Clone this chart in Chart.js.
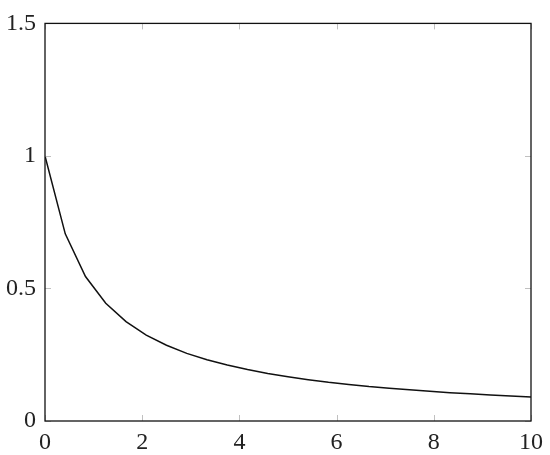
<!DOCTYPE html>
<html lang="en">
<head>
    <meta charset="UTF-8">
    <title>Decay curve</title>
    <script src="https://cdn.jsdelivr.net/npm/chart.js"></script>
    <style>
        body { margin: 0; background: #fff; }
        #wrap { width: 550px; height: 455px; }
    </style>
</head>
<body>
    <div id="wrap"><canvas id="chart" width="550" height="455"></canvas></div>
    <script>
        // values
        const xValues = [0, 0.417, 0.833, 1.25, 1.667, 2.083, 2.5, 2.917, 3.333, 3.75, 4.167, 4.583,
                         5, 5.417, 5.833, 6.25, 6.667, 7.083, 7.5, 7.917, 8.333, 8.75, 9.167, 9.583, 10];
        const yValues = [1, 0.706, 0.545, 0.444, 0.375, 0.324, 0.286, 0.255, 0.231, 0.211, 0.194, 0.179,
                         0.167, 0.156, 0.146, 0.138, 0.130, 0.124, 0.118, 0.112, 0.107, 0.103, 0.098, 0.094, 0.091];
        const xTicks = [0, 2, 4, 6, 8, 10];
        const yTicks = [0, 0.5, 1, 1.5];

        const points = xValues.map((x, i) => ({ x: x, y: yValues[i] }));

        // box frame plus small inward ticks on every side
        const framePlugin = {
            id: 'frame',
            afterDatasetsDraw(chart) {
                const ctx = chart.ctx;
                const a = chart.chartArea;
                const xs = chart.scales.x, ys = chart.scales.y;
                const len = 6;
                ctx.save();
                ctx.strokeStyle = '#c0c0c0';
                ctx.lineWidth = 1;
                ctx.beginPath();
                xTicks.forEach(v => {
                    const px = Math.round(xs.getPixelForValue(v)) + 0.5;
                    ctx.moveTo(px, a.bottom); ctx.lineTo(px, a.bottom - len);
                    ctx.moveTo(px, a.top); ctx.lineTo(px, a.top + len);
                });
                yTicks.forEach(v => {
                    const py = Math.round(ys.getPixelForValue(v)) + 0.5;
                    ctx.moveTo(a.left, py); ctx.lineTo(a.left + len, py);
                    ctx.moveTo(a.right, py); ctx.lineTo(a.right - len, py);
                });
                ctx.stroke();
                ctx.strokeStyle = '#111';
                ctx.lineWidth = 1.3;
                ctx.strokeRect(a.left, a.top, a.right - a.left, a.bottom - a.top);
                ctx.restore();
            }
        };

        const font = { family: '"Liberation Serif", "DejaVu Serif", serif', size: 24 };
        const plain = v => String(v);

        new Chart(document.getElementById('chart'), {
            type: 'scatter',
            data: {
                datasets: [{
                    data: points,
                    showLine: true,
                    borderColor: '#111',
                    borderWidth: 1.5,
                    pointRadius: 0,
                    tension: 0
                }]
            },
            options: {
                responsive: false,
                animation: false,
                layout: { padding: { top: 16, right: 18, left: 0, bottom: 0 } },
                plugins: { legend: { display: false }, tooltip: { enabled: false } },
                scales: {
                    x: {
                        type: 'linear', min: 0, max: 10,
                        afterBuildTicks(s) { s.ticks = xTicks.map(v => ({ value: v })); },
                        afterFit(s) { s.height = 34; },
                        grid: { display: false, drawTicks: false },
                        border: { display: false },
                        ticks: { color: '#222', font: font, padding: 7, maxRotation: 0, callback: plain }
                    },
                    y: {
                        type: 'linear', min: 0, max: 1.5,
                        afterBuildTicks(s) { s.ticks = yTicks.map(v => ({ value: v })); },
                        afterFit(s) { s.width = 45; },
                        grid: { display: false, drawTicks: false },
                        border: { display: false },
                        ticks: { color: '#222', font: font, padding: 9, callback: plain }
                    }
                }
            },
            plugins: [framePlugin]
        });
    </script>
</body>
</html>
